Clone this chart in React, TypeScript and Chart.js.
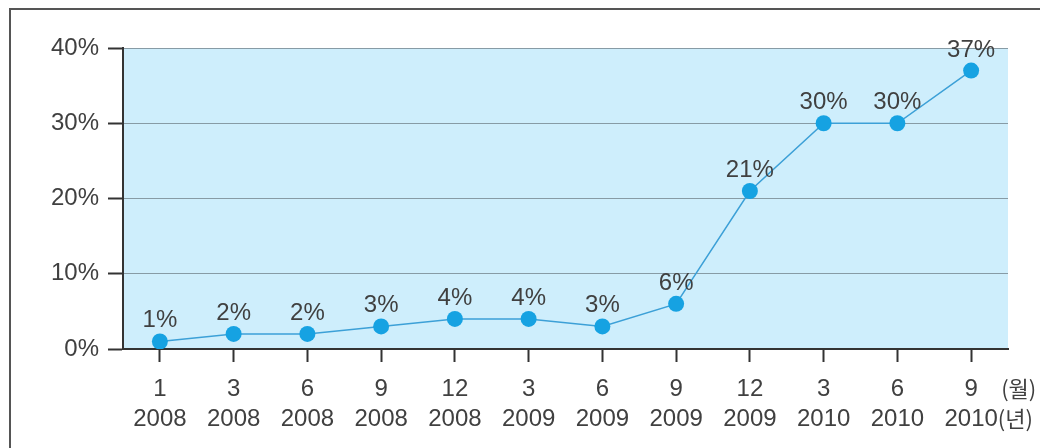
import React, { useEffect, useRef } from "react";
import { Chart, registerables } from "chart.js";

Chart.register(...registerables);

const months = ["1", "3", "6", "9", "12", "3", "6", "9", "12", "3", "6", "9"];
const years = ["2008", "2008", "2008", "2008", "2008", "2009", "2009", "2009", "2009", "2010", "2010", "2010"];
const values = [1, 2, 2, 3, 4, 4, 3, 6, 21, 30, 30, 37];
const yTicks = [0, 10, 20, 30, 40];
const monthUnit = "(월)";
const yearUnit = "(년)";

const FONT = "'Liberation Sans', Arial, Helvetica, sans-serif";
const TEXT = "#404040";

export default function App() {
  const ref = useRef<HTMLCanvasElement | null>(null);

  useEffect(() => {
    const canvas = ref.current;
    if (!canvas) return;

    const bgPlugin = {
      id: "bgFill",
      beforeDraw(chart: any) {
        const { ctx, chartArea } = chart;
        ctx.save();
        ctx.fillStyle = "rgb(206,238,252)";
        ctx.fillRect(chartArea.left, chartArea.top, chartArea.right - chartArea.left, chartArea.bottom - chartArea.top);
        // outer frame (left + top)
        ctx.strokeStyle = "#555";
        ctx.lineWidth = 2;
        ctx.beginPath();
        ctx.moveTo(10, 448);
        ctx.lineTo(10, 9);
        ctx.lineTo(1040, 9);
        ctx.stroke();
        ctx.restore();
      },
    };

    const labelPlugin = {
      id: "valueLabels",
      afterDraw(chart: any) {
        const { ctx } = chart;
        const meta = chart.getDatasetMeta(0);
        ctx.save();
        ctx.fillStyle = TEXT;
        ctx.font = `24px ${FONT}`;
        ctx.textAlign = "center";
        ctx.textBaseline = "alphabetic";
        meta.data.forEach((pt: any, i: number) => {
          ctx.fillText(values[i] + "%", pt.x, pt.y - 14);
        });
        // unit labels after last x tick
        const xs = chart.scales.x;
        const lastX = xs.getPixelForTick(months.length - 1);
        const wYear = ctx.measureText(years[years.length - 1]).width;
        ctx.textAlign = "left";
        ctx.textBaseline = "middle";
        ctx.font = `22px 'Noto Sans CJK KR', ${FONT}`;
        ctx.fillText(monthUnit, lastX + 30, 389);
        ctx.fillText(yearUnit, lastX + wYear / 2, 419);
        ctx.restore();
      },
    };

    const chart = new Chart(canvas, {
      type: "line",
      data: {
        labels: months.map((m, i) => [m, years[i]]),
        datasets: [
          {
            data: values,
            borderColor: "rgb(60,160,215)",
            borderWidth: 1.5,
            pointBackgroundColor: "rgb(22,162,226)",
            pointBorderColor: "rgb(22,162,226)",
            pointRadius: 8,
            pointBorderWidth: 0,
            tension: 0,
          },
        ],
      },
      options: {
        responsive: false,
        maintainAspectRatio: false,
        animation: false,
        layout: { padding: { left: 0, right: 32, top: 48, bottom: 0 } },
        plugins: {
          legend: { display: false },
          tooltip: { enabled: false },
        },
        scales: {
          x: {
            offset: true,
            grid: {
              drawOnChartArea: false,
              drawTicks: true,
              tickLength: 13,
              tickColor: "#333",
              tickWidth: 2,
              offset: false,
            },
            border: { display: true, color: "#333", width: 2 },
            ticks: {
              color: TEXT,
              font: { family: FONT, size: 24, lineHeight: 1.25 },
              padding: 12,
              maxRotation: 0,
              autoSkip: false,
            },
            afterFit(scale: any) {
              scale.height = 99;
            },
          },
          y: {
            min: 0,
            max: 40,
            afterBuildTicks(scale: any) {
              scale.ticks = yTicks.map((v) => ({ value: v }));
            },
            grid: {
              color: "rgb(135,155,165)",
              lineWidth: 1,
              drawTicks: true,
              tickLength: 15,
              tickColor: "#333",
              tickWidth: 2,
            },
            border: { display: true, color: "#333", width: 2 },
            ticks: {
              color: TEXT,
              font: { family: FONT, size: 24 },
              padding: 9,
              callback: (v: any) => v + "%",
            },
            afterFit(scale: any) {
              scale.width = 123;
            },
          },
        },
      },
      plugins: [bgPlugin, labelPlugin],
    });

    return () => chart.destroy();
  }, []);

  return (
    <div style={{ position: "fixed", left: 0, top: 0, width: 1040, height: 448, background: "#fff" }}>
      <canvas ref={ref} width={1040} height={448} style={{ display: "block" }} />
    </div>
  );
}
